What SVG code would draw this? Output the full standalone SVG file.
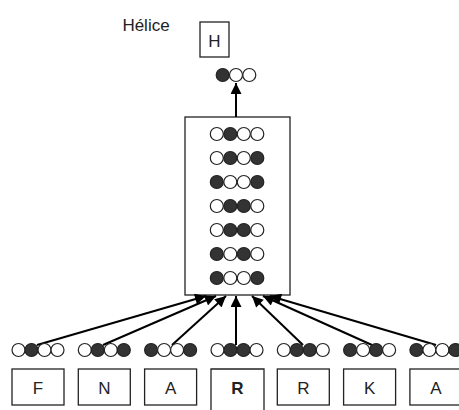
<svg xmlns="http://www.w3.org/2000/svg" width="459" height="410" viewBox="0 0 459 410">
  <style>
    .box { fill: #fff; stroke: #222; stroke-width: 1.3; }
    .lbl { font-family: "Liberation Sans", Arial, sans-serif; font-size: 17px; fill: #222; text-anchor: middle; }
    .on { fill: #333; stroke: #222; stroke-width: 1.2; }
    .off { fill: #fff; stroke: #222; stroke-width: 1.2; }
    .edge { stroke: #000; stroke-width: 2; fill: none; marker-end: url(#tip); }
  </style>
  <defs>
    <marker id="tip" viewBox="0 0 10 10" refX="10" refY="5" markerWidth="6" markerHeight="5.5" orient="auto" markerUnits="strokeWidth">
      <path d="M0,0 L10,5 L0,10 Z" fill="#000"/>
    </marker>
    <circle id="o" r="6.5" class="off"/>
    <circle id="b" r="6.5" class="on"/>
  </defs>
  <rect width="459" height="410" fill="#fff"/>

  <!-- output class -->
  <g id="helice">
    <text x="146" y="31" class="lbl">Hélice</text>
    <rect x="200" y="22" width="29" height="35" class="box"/>
    <text x="214.5" y="47" class="lbl">H</text>
  </g>
  <g id="out-code">
    <use href="#b" x="222.7" y="75"/>
    <use href="#o" x="236" y="75"/>
    <use href="#o" x="249.3" y="75"/>
  </g>

  <!-- hidden layer -->
  <g id="hidden">
    <rect x="185" y="117" width="105" height="178" class="box"/>
    <g transform="translate(0,134)">
      <use href="#o" x="216.8"/><use href="#b" x="230.3"/><use href="#o" x="243.8"/><use href="#o" x="257.3"/>
    </g>
    <g transform="translate(0,158)">
      <use href="#o" x="216.8"/><use href="#b" x="230.3"/><use href="#o" x="243.8"/><use href="#b" x="257.3"/>
    </g>
    <g transform="translate(0,182)">
      <use href="#b" x="216.8"/><use href="#o" x="230.3"/><use href="#o" x="243.8"/><use href="#b" x="257.3"/>
    </g>
    <g transform="translate(0,206)">
      <use href="#o" x="216.8"/><use href="#b" x="230.3"/><use href="#b" x="243.8"/><use href="#o" x="257.3"/>
    </g>
    <g transform="translate(0,230)">
      <use href="#o" x="216.8"/><use href="#b" x="230.3"/><use href="#b" x="243.8"/><use href="#o" x="257.3"/>
    </g>
    <g transform="translate(0,254)">
      <use href="#b" x="216.8"/><use href="#o" x="230.3"/><use href="#b" x="243.8"/><use href="#o" x="257.3"/>
    </g>
    <g transform="translate(0,278)">
      <use href="#b" x="216.8"/><use href="#o" x="230.3"/><use href="#o" x="243.8"/><use href="#b" x="257.3"/>
    </g>
  </g>

  <!-- connectors -->
  <g id="connectors">
    <line x1="236" y1="117" x2="236" y2="83" class="edge"/>
    <line x1="37" y1="345" x2="206" y2="296" class="edge"/>
    <line x1="103" y1="345" x2="216" y2="296" class="edge"/>
    <line x1="172" y1="345" x2="226" y2="296" class="edge"/>
    <line x1="236" y1="345" x2="236" y2="296" class="edge"/>
    <line x1="303" y1="345" x2="252" y2="296" class="edge"/>
    <line x1="372" y1="345" x2="263" y2="296" class="edge"/>
    <line x1="436" y1="345" x2="270" y2="296" class="edge"/>
  </g>

  <!-- input window -->
  <g id="in-F">
    <use href="#o" x="18.5" y="350"/><use href="#b" x="31.5" y="350"/><use href="#o" x="44.5" y="350"/><use href="#o" x="57.5" y="350"/>
    <rect x="12" y="369" width="52" height="36" class="box"/>
    <text x="38" y="394" class="lbl">F</text>
  </g>
  <g id="in-N">
    <use href="#o" x="84.8" y="350"/><use href="#b" x="97.8" y="350"/><use href="#o" x="110.8" y="350"/><use href="#b" x="123.8" y="350"/>
    <rect x="78.3" y="369" width="52" height="36" class="box"/>
    <text x="104.3" y="394" class="lbl">N</text>
  </g>
  <g id="in-A1">
    <use href="#b" x="151.1" y="350"/><use href="#o" x="164.1" y="350"/><use href="#o" x="177.1" y="350"/><use href="#b" x="190.1" y="350"/>
    <rect x="144.6" y="369" width="52" height="36" class="box"/>
    <text x="170.6" y="394" class="lbl">A</text>
  </g>
  <g id="in-R-center">
    <use href="#o" x="217.5" y="350"/><use href="#b" x="230.5" y="350"/><use href="#b" x="243.5" y="350"/><use href="#o" x="256.5" y="350"/>
    <path d="M211,410 V369 H264 V410" class="box"/>
    <text x="237.5" y="394" class="lbl" font-weight="bold">R</text>
  </g>
  <g id="in-R">
    <use href="#o" x="283.8" y="350"/><use href="#b" x="296.8" y="350"/><use href="#b" x="309.8" y="350"/><use href="#o" x="322.8" y="350"/>
    <rect x="277.3" y="369" width="52" height="36" class="box"/>
    <text x="303.3" y="394" class="lbl">R</text>
  </g>
  <g id="in-K">
    <use href="#b" x="350.1" y="350"/><use href="#o" x="363.1" y="350"/><use href="#b" x="376.1" y="350"/><use href="#o" x="389.1" y="350"/>
    <rect x="343.6" y="369" width="52" height="36" class="box"/>
    <text x="369.6" y="394" class="lbl">K</text>
  </g>
  <g id="in-A2">
    <use href="#b" x="416.4" y="350"/><use href="#o" x="429.4" y="350"/><use href="#o" x="442.4" y="350"/><use href="#b" x="455.4" y="350"/>
    <rect x="409.9" y="369" width="52" height="36" class="box"/>
    <text x="435.9" y="394" class="lbl">A</text>
  </g>
</svg>
